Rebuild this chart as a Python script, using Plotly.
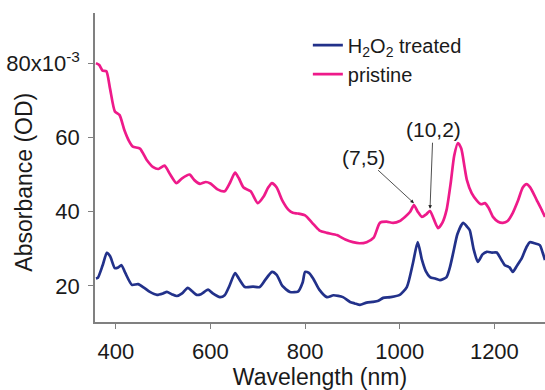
import plotly.graph_objects as go

# Pristine spectrum
wl_pristine = [358, 365, 372, 380, 388, 398, 408, 418, 428, 436, 451, 465, 479, 490, 503, 515, 528, 540, 556, 566,
               578, 590, 600, 615, 630, 642, 652, 660, 670, 685, 700, 712, 722, 730, 740, 752, 765, 774, 785, 800,
               815, 830, 846, 867, 885, 901, 915, 930, 945, 958, 972, 986, 1000, 1011, 1022, 1030, 1038, 1047, 1056,
               1064, 1072, 1081, 1090, 1099, 1108, 1115, 1123, 1130, 1137, 1142, 1152, 1163, 1172, 1180, 1188, 1197,
               1208, 1218, 1228, 1239, 1250, 1260, 1268, 1276, 1290, 1300, 1307]
abs_pristine = [80, 79.5, 78, 77.8, 73, 67, 66, 62, 59, 57.5, 57, 54, 52, 51.5, 52.4, 50, 47.7, 49, 50, 48.5,
                47.5, 48, 47.6, 46, 45.5, 48, 50.5, 49, 46.5, 45.5, 42.3, 44, 46.5, 47.7, 46.5, 43, 40.5, 39.7, 39.5, 39,
                37, 35, 34.3, 33.7, 32.5, 31.8, 31.5, 31.8, 33, 37, 37.3, 37, 37.5, 38.6, 40, 41.8, 40, 38.6, 39.3,
                40.2, 38, 35.6, 37, 40.5, 48, 55, 58.5, 57, 52, 48.5, 45, 43, 42, 42.3, 41, 38.6,
                37.3, 37, 37.5, 39.7, 43, 46.5, 47.4, 46.5, 43, 40.5, 38.6]

# H2O2 treated spectrum
wl_treated = [358, 362, 372, 381, 388, 398, 405, 412, 420, 434, 447, 460, 472, 487, 500, 508, 518, 529, 540, 552,
              562, 571, 580, 595, 605, 620, 630, 640, 652, 660, 673, 690, 704, 715, 730, 740, 752, 768, 785, 795,
              800, 808, 817, 830, 846, 860, 880, 895, 905, 916, 930, 943, 955, 965, 980, 1000, 1015, 1028, 1038,
              1047, 1055, 1064, 1075, 1085, 1099, 1106, 1113, 1122, 1134, 1142, 1148, 1156, 1165, 1175, 1184, 1195,
              1205, 1215, 1222, 1232, 1239, 1248, 1258, 1268, 1275, 1285, 1296, 1302, 1307]
abs_treated = [22, 22.2, 25.5, 28.9, 28, 24.8, 25, 25.6, 23.5, 20.3, 20.5, 19.5, 18.4, 17.6, 18, 18.4, 17.8, 17.3, 18, 19.5,
               18.5, 17.6, 17.8, 19, 18, 17, 17.5, 20, 23.5, 22, 19.7, 19.8, 19.7, 21.5, 23.8, 23, 20, 18.4, 18.5, 21,
               23.8, 23.5, 22, 19, 17, 17.5, 17, 15.7, 15.3, 14.9, 15.5, 15.7, 16, 16.8, 17, 17.6, 19.7, 26.2, 31.8,
               27, 24, 22.4, 22, 21.6, 22.4, 25, 28.9, 34, 37, 36, 35, 30, 26.5, 28.5, 29.2, 29,
               29, 27, 25.6, 25, 23.8, 25.5, 27.5, 30.5, 31.8, 31.5, 31, 29, 27]

y_tickvals = [20, 40, 60, 80]
y_ticktext = ["20", "40", "60", "80x10<sup>-3</sup>"]
x_tickvals = [400, 600, 800, 1000, 1200]

FONT = "Liberation Sans, Arial, sans-serif"
TXT = "#1a1a1a"

fig = go.Figure()
fig.add_trace(go.Scatter(x=wl_treated, y=abs_treated, mode="lines",
                         name="H<sub>2</sub>O<sub>2</sub> treated",
                         line=dict(color="#22318a", width=2.7, shape="spline", smoothing=0.6)))
fig.add_trace(go.Scatter(x=wl_pristine, y=abs_pristine, mode="lines", name="pristine",
                         line=dict(color="#ee1a8a", width=2.7, shape="spline", smoothing=0.6)))

fig.add_annotation(x=1030, y=42.3, text="(7,5)", showarrow=True, arrowhead=2, arrowsize=0.9,
                   arrowwidth=0.8, arrowcolor="#222", ax=-50, ay=-46,
                   font=dict(size=21, color=TXT, family=FONT))
fig.add_annotation(x=1064, y=40.8, text="(10,2)", showarrow=True, arrowhead=2, arrowsize=0.9,
                   arrowwidth=0.8, arrowcolor="#222", ax=3, ay=-79,
                   font=dict(size=21, color=TXT, family=FONT))

# y-axis title placed as a rotated annotation
fig.add_annotation(xref="paper", yref="paper", x=-0.157, y=0.452, text="Absorbance (OD)",
                   textangle=-90, showarrow=False, xanchor="center", yanchor="middle",
                   font=dict(size=23, color=TXT, family=FONT))

fig.update_layout(
    width=545, height=390,
    margin=dict(l=95, r=0, t=13, b=68),
    paper_bgcolor="white", plot_bgcolor="white",
    font=dict(family=FONT, size=22, color=TXT),
    showlegend=True,
    legend=dict(x=0.473, y=0.959, xanchor="left", yanchor="top",
                font=dict(size=20, family=FONT, color=TXT),
                bgcolor="rgba(0,0,0,0)", itemwidth=30, tracegroupgap=0),
    xaxis=dict(range=[356, 1307], tickvals=x_tickvals, ticks="outside", ticklen=5,
               tickcolor="#808080", showline=True, linecolor="#808080", linewidth=1.5,
               showgrid=False, zeroline=False, mirror=False, automargin=False,
               title=dict(text="Wavelength (nm)", standoff=14, font=dict(size=23)),
               tickfont=dict(size=22), ticklabelstandoff=4),
    yaxis=dict(range=[10.3, 93.5], tickvals=y_tickvals, ticktext=y_ticktext, ticks="outside", ticklen=5,
               tickcolor="#808080", showline=True, linecolor="#808080", linewidth=1.5,
               showgrid=False, zeroline=False, mirror=False, automargin=False,
               tickfont=dict(size=22), ticklabelstandoff=4),
)

# remove the default page margin so the figure sits at the window's top-left corner
fig.write_html("out.html", config={"displayModeBar": False},
               post_script="document.body.style.margin='0';document.body.style.overflow='hidden';")
